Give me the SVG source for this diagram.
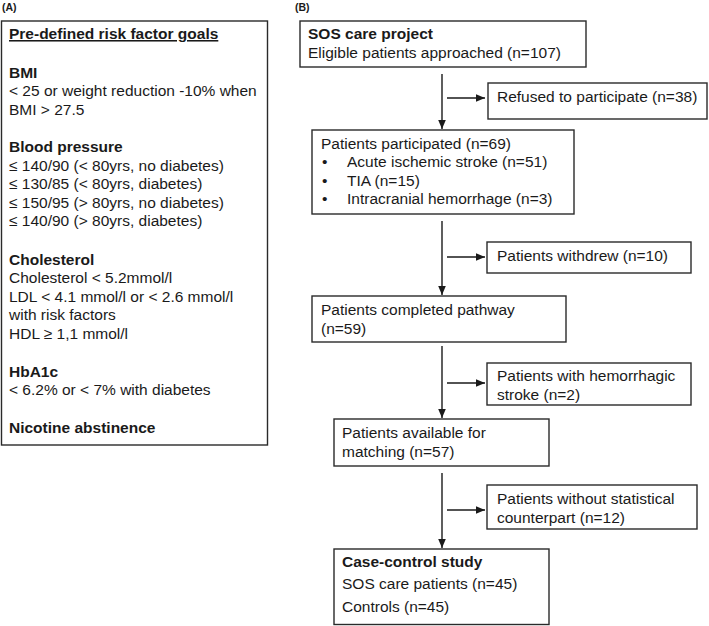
<svg xmlns="http://www.w3.org/2000/svg" width="709" height="626" viewBox="0 0 709 626">
<style>
  text { font-family: "Liberation Sans", Arial, sans-serif; font-size: 15.5px; fill: #1a1a1a; }
  .b { font-weight: bold; }
  .lbl { font-weight: bold; font-size: 10.5px; }
  .box { fill: #ffffff; stroke: #2a2a2a; stroke-width: 1.4; }
  .conn line { stroke: #1a1a1a; stroke-width: 1.4; }
</style>
<defs>
  <marker id="ah" markerUnits="userSpaceOnUse" markerWidth="10" markerHeight="10" viewBox="0 0 10 10" refX="9" refY="5" orient="auto">
    <path d="M0,1.2 L9,5 L0,8.8 Z" fill="#1a1a1a"/>
  </marker>
</defs>
<rect width="709" height="626" fill="#ffffff"/>

<text class="lbl" x="2" y="11">(A)</text>
<text class="lbl" x="295" y="11">(B)</text>

<g id="goals">
  <rect class="box" x="1.5" y="21" width="266" height="424"/>
  <text class="b" x="9" y="39" text-decoration="underline">Pre-defined risk factor goals</text>
  <text class="b" x="9" y="77.5">BMI</text>
  <text x="9" y="96">&lt; 25 or weight reduction -10% when</text>
  <text x="9" y="114.6">BMI &gt; 27.5</text>
  <text class="b" x="9" y="152">Blood pressure</text>
  <text x="9" y="170.6">≤ 140/90 (&lt; 80yrs, no diabetes)</text>
  <text x="9" y="189.2">≤ 130/85 (&lt; 80yrs, diabetes)</text>
  <text x="9" y="207.8">≤ 150/95 (&gt; 80yrs, no diabetes)</text>
  <text x="9" y="226.4">≤ 140/90 (&gt; 80yrs, diabetes)</text>
  <text class="b" x="9" y="264.5">Cholesterol</text>
  <text x="9" y="283">Cholesterol &lt; 5.2mmol/l</text>
  <text x="9" y="301.5">LDL &lt; 4.1 mmol/l or &lt; 2.6 mmol/l</text>
  <text x="9" y="320">with risk factors</text>
  <text x="9" y="338.5">HDL ≥ 1,1 mmol/l</text>
  <text class="b" x="9" y="376.5">HbA1c</text>
  <text x="9" y="395">&lt; 6.2% or &lt; 7% with diabetes</text>
  <text class="b" x="9" y="432.5">Nicotine abstinence</text>
</g>

<g class="conn" id="connectors">
  <line x1="442" y1="74" x2="442" y2="129" marker-end="url(#ah)"/>
  <line x1="447" y1="98" x2="485" y2="98" marker-end="url(#ah)"/>
  <line x1="442" y1="221" x2="442" y2="295" marker-end="url(#ah)"/>
  <line x1="447" y1="257" x2="485" y2="257" marker-end="url(#ah)"/>
  <line x1="442" y1="346" x2="442" y2="418" marker-end="url(#ah)"/>
  <line x1="447" y1="383" x2="485" y2="383" marker-end="url(#ah)"/>
  <line x1="442" y1="473" x2="442" y2="548" marker-end="url(#ah)"/>
  <line x1="447" y1="510" x2="485" y2="510" marker-end="url(#ah)"/>
</g>

<g id="sos">
  <rect class="box" x="300" y="21" width="286" height="46"/>
  <text class="b" x="308" y="39">SOS care project</text>
  <text x="308" y="58">Eligible patients approached (n=107)</text>
</g>
<g id="refused">
  <rect class="box" x="488" y="83" width="219" height="36"/>
  <text x="497" y="102">Refused to participate (n=38)</text>
</g>
<g id="participated">
  <rect class="box" x="312" y="130" width="262" height="84"/>
  <text x="321" y="149">Patients participated (n=69)</text>
  <text x="322" y="167">•</text>
  <text x="347" y="167">Acute ischemic stroke (n=51)</text>
  <text x="322" y="185.5">•</text>
  <text x="347" y="185.5">TIA (n=15)</text>
  <text x="322" y="204">•</text>
  <text x="347" y="204">Intracranial hemorrhage (n=3)</text>
</g>
<g id="withdrew">
  <rect class="box" x="487" y="242" width="204" height="31"/>
  <text x="497" y="261">Patients withdrew (n=10)</text>
</g>
<g id="completed">
  <rect class="box" x="312" y="296" width="254" height="46"/>
  <text x="321" y="315">Patients completed pathway</text>
  <text x="321" y="334">(n=59)</text>
</g>
<g id="hemorrhagic">
  <rect class="box" x="487" y="363" width="204" height="42"/>
  <text x="497" y="381">Patients with hemorrhagic</text>
  <text x="497" y="400">stroke (n=2)</text>
</g>
<g id="available">
  <rect class="box" x="334" y="419" width="215" height="47"/>
  <text x="342" y="438">Patients available for</text>
  <text x="342" y="457">matching (n=57)</text>
</g>
<g id="nocounterpart">
  <rect class="box" x="487" y="485" width="210" height="44"/>
  <text x="497" y="504">Patients without statistical</text>
  <text x="497" y="523">counterpart (n=12)</text>
</g>
<g id="casecontrol">
  <rect class="box" x="334" y="549" width="215" height="75.5"/>
  <text class="b" x="342" y="567">Case-control study</text>
  <text x="342" y="589">SOS care patients (n=45)</text>
  <text x="342" y="612">Controls (n=45)</text>
</g>
</svg>
